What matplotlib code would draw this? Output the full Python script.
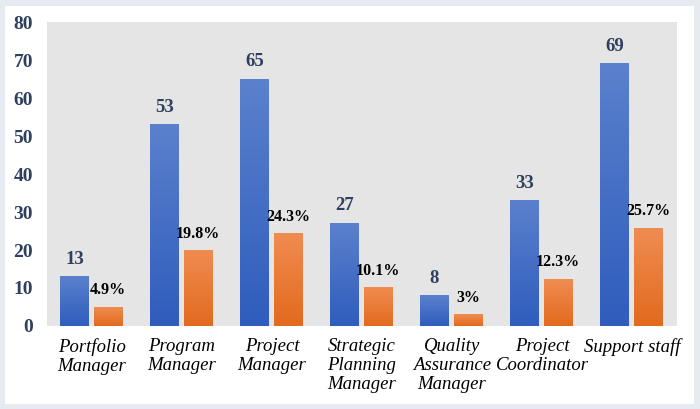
import matplotlib
matplotlib.use("Agg")
import matplotlib.pyplot as plt
import numpy as np
from matplotlib.colors import LinearSegmentedColormap
from matplotlib.patches import Rectangle

categories = ["Portfolio\nManager", "Program\nManager", "Project\nManager",
              "Strategic\nPlanning\nManager", "Quality\nAssurance\nManager",
              "Project\nCoordinator", "Support staff"]
counts = [13, 53, 65, 27, 8, 33, 69]
percents = [4.9, 19.8, 24.3, 10.1, 3, 12.3, 25.7]
pct_labels = ["4.9%", "19.8%", "24.3%", "10.1%", "3%", "12.3%", "25.7%"]
yticks = [0, 10, 20, 30, 40, 50, 60, 70, 80]

serif = ["Liberation Serif", "DejaVu Serif"]

fig = plt.figure(figsize=(7.0, 4.09), dpi=100)
fig.patch.set_facecolor("white")
fig.patches.append(Rectangle((0.002, 0.004), 0.994, 0.991, transform=fig.transFigure,
                             facecolor="none", edgecolor="#e6eaf1", linewidth=5, zorder=0))

ax = fig.add_axes([0.0671, 0.203, 0.9, 0.743])
ax.set_facecolor("#e5e5e5")
for s in ax.spines.values():
    s.set_visible(False)

x = np.arange(len(categories))
w = 0.315
blue_bars = ax.bar(x - 0.195, counts, w, color="#4a72c8", zorder=2)
orange_bars = ax.bar(x + 0.18, percents, w, color="#ec7d3a", zorder=2)

blue_cmap = LinearSegmentedColormap.from_list("b", ["#2f5dbd", "#5b81cd"])
orange_cmap = LinearSegmentedColormap.from_list("o", ["#e26a1e", "#f08c51"])
grad = np.linspace(0, 1, 256).reshape(-1, 1)
for bars, cmap in ((blue_bars, blue_cmap), (orange_bars, orange_cmap)):
    for b in bars:
        x0, y0 = b.get_x(), b.get_y()
        ax.imshow(grad, extent=[x0, x0 + b.get_width(), y0, y0 + b.get_height()],
                  origin="lower", aspect="auto", cmap=cmap, zorder=3)

for b, v in zip(blue_bars, counts):
    ax.annotate(str(v), (b.get_x() + b.get_width() / 2, b.get_height()),
                xytext=(0, 6.5), textcoords="offset points", ha="center", va="bottom",
                fontsize=13.5, fontweight="bold", color="#2f3f5e", family=serif)
for b, t in zip(orange_bars, pct_labels):
    ax.annotate(t, (b.get_x() + b.get_width() / 2, b.get_height()),
                xytext=(0, 6.5), textcoords="offset points", ha="center", va="bottom",
                fontsize=11.5, fontweight="bold", color="black", family=serif)

ax.set_xlim(-0.5, len(categories) - 0.5)
ax.set_ylim(0, 80)
ax.set_yticks(yticks)
ax.set_yticklabels([str(v) for v in yticks], fontsize=14, fontweight="bold",
                   color="#2f3f5e", family=serif)
ax.set_xticks(x)
ax.set_xticklabels(categories, fontsize=13.5, fontstyle="italic", color="black",
                   family=serif, linespacing=1.15, va="top")
ax.tick_params(axis="both", length=0)
ax.tick_params(axis="y", pad=10)
ax.tick_params(axis="x", pad=9)

fig.savefig("out.png", dpi=100)
